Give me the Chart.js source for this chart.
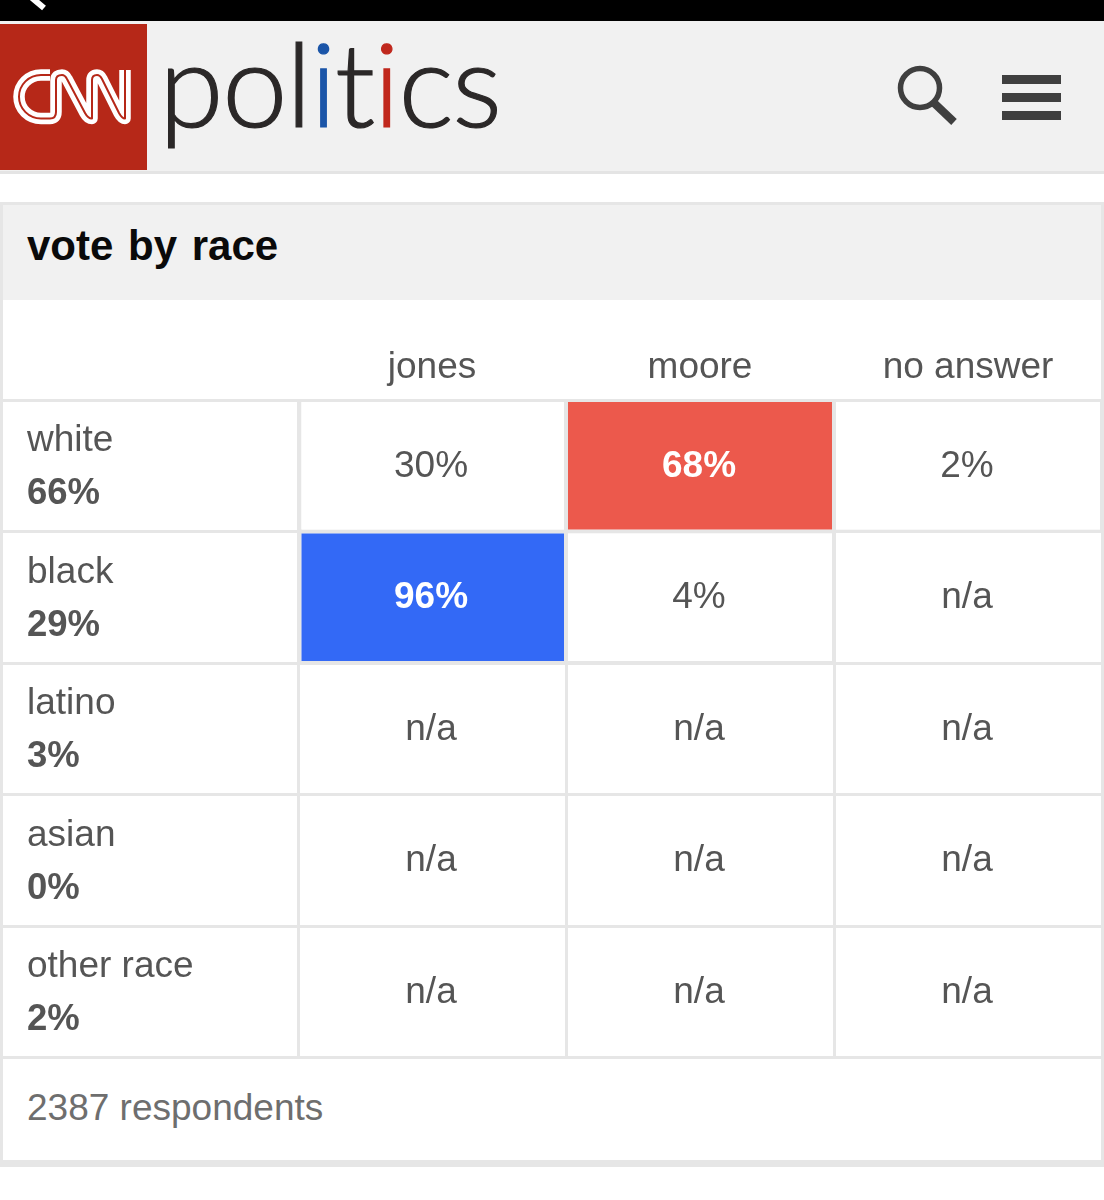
<!DOCTYPE html>
<html><head><meta charset="utf-8">
<script src="https://cdn.jsdelivr.net/npm/chart.js@4"></script>
<style>
html,body{margin:0;padding:0;background:#fff;width:1104px;height:1200px;overflow:hidden;font-family:"Liberation Sans",Arial,sans-serif}
.abs{position:absolute}
#politics{left:159px;top:24px;font:300 117px/1 Lato;letter-spacing:-1.4px;color:#2b2828;white-space:nowrap;-webkit-text-stroke:1.2px currentColor}
#title{left:27px;top:222px;font:bold 42px/48px "Liberation Sans";color:#0a0a0a;word-spacing:3px;white-space:nowrap}
#foot{left:27px;top:1086px;font:37px/44px "Liberation Sans";color:#6e6e6e;white-space:nowrap}
</style></head><body>
<div class="abs" style="left:0;top:0;width:1104px;height:21px;background:#000"></div>
<div class="abs" style="left:0;top:21px;width:1104px;height:151px;background:#f1f1f1"></div>
<div class="abs" style="left:0;top:171px;width:1104px;height:3px;background:#e4e4e4"></div>
<div class="abs" style="left:0;top:24px;width:147px;height:146px;background:#b62818"></div>
<svg class="abs" style="left:0;top:0" width="1104" height="200">
  <path d="M32 -2 L44 8" stroke="#fff" stroke-width="6" fill="none"/>
  <g fill="none" stroke-linejoin="round" stroke-linecap="butt">
    <path d="M50 75 H41 A22 21.75 0 0 0 41 118.5 H50 Q56 118.5 56 112 V80 Q56 75 62 75 Q65 75 67 79 L85 113 Q88 118.5 92 118.5 V80 Q92 75 97 75 Q100 75 102 79 L119 113 Q122 118.5 125 118.5 V70" stroke="#fff" stroke-width="11.5"/>
    <path d="M50 75 H41 A22 21.75 0 0 0 41 118.5 H50 Q56 118.5 56 112 V80 Q56 75 62 75 Q65 75 67 79 L85 113 Q88 118.5 92 118.5 V80 Q92 75 97 75 Q100 75 102 79 L119 113 Q122 118.5 125 118.5 V70" stroke="#b62818" stroke-width="2"/>
  </g>
  <circle cx="920" cy="88" r="19.5" fill="none" stroke="#3f3f3f" stroke-width="5.5"/>
  <path d="M933 102 L954 122" stroke="#3f3f3f" stroke-width="8" fill="none"/>
  <rect x="1002" y="75" width="59" height="9" fill="#3f3f3f"/>
  <rect x="1002" y="93" width="59" height="9" fill="#3f3f3f"/>
  <rect x="1002" y="111" width="59" height="9" fill="#3f3f3f"/>
</svg>
<div id="politics" class="abs">pol<span style="color:#1b55a8">i</span>t<span style="color:#c0281d">i</span>cs</div>
<div class="abs" style="left:0;top:202px;width:1104px;height:3px;background:#e6e6e6"></div>
<div class="abs" style="left:0;top:205px;width:1104px;height:95px;background:#f1f1f1"></div>
<div class="abs" style="left:0;top:202px;width:3px;height:965px;background:#e6e6e6"></div>
<div class="abs" style="left:1101px;top:202px;width:3px;height:965px;background:#e6e6e6"></div>
<div class="abs" style="left:0;top:1160px;width:1104px;height:7px;background:#e6e6e6"></div>
<div id="title" class="abs">vote by race</div>
<div id="foot" class="abs">2387 respondents</div>
<div class="abs" style="left:0;top:302px;width:1104px;height:770px"><canvas id="c" width="1104" height="770"></canvas></div>
<script>
const races = ["white","black","latino","asian","other race"];
const shares = [66,29,3,0,2];
const columns = ["jones","moore","no answer"];
const jones = [30,96,null,null,null];
const moore = [68,4,null,null,null];
const noAnswer = [2,null,null,null,null];

const series = [jones,moore,noAnswer];
const highlight = ["#3369f6","#ec594c",null];
const GRID = "#e6e6e6", TEXT = "#555555";
const datasets = series.map((vals,col)=>({
  label: columns[col],
  data: vals.map(v=> v==null ? null : [col,col+1]),
  grouped:false,
  barPercentage:1, categoryPercentage:1,
  borderWidth:2, borderColor:GRID, borderSkipped:false, inflateAmount:0,
  backgroundColor: ctx=>{
    const row = ctx.dataIndex, v = vals[row];
    const top = Math.max(...series.map(s=>s[row]??-1));
    return (v===top && highlight[col]) ? highlight[col] : "#ffffff";
  }
}));
const labelPlugin = {
  id:"cellText",
  afterDatasetsDraw(chart){
    const {ctx,scales:{x,y}} = chart;
    ctx.save();
    ctx.textBaseline="alphabetic";
    races.forEach((r,row)=>{
      const py = y.getPixelForValue(row);
      ctx.textAlign="left"; ctx.fillStyle=TEXT;
      ctx.font='37px "Liberation Sans"';
      ctx.fillText(r,27,py-14.5);
      ctx.font='bold 36.5px "Liberation Sans"';
      ctx.fillText(shares[row]+"%",27,py+38.5);
      ctx.textAlign="center";
      series.forEach((s,col)=>{
        const v=s[row], px=x.getPixelForValue(col+0.5);
        const top=Math.max(...series.map(q=>q[row]??-1));
        const hot=v===top&&highlight[col];
        ctx.font=(hot?'bold ':'')+'37px "Liberation Sans"';
        ctx.fillStyle=hot?"#ffffff":TEXT;
        ctx.fillText(v==null?"n/a":v+"%",px-1,py+11);
      });
    });
    ctx.restore();
  }
};
new Chart(document.getElementById("c"),{
  type:"bar",
  data:{labels:races,datasets},
  plugins:[labelPlugin],
  options:{
    indexAxis:"y",responsive:false,animation:false,
    layout:{padding:{left:0,top:0,right:2,bottom:14.5}},
    plugins:{legend:{display:false},tooltip:{enabled:false},title:{display:false}},
    scales:{
      x:{type:"linear",position:"top",min:0,max:3,
         ticks:{display:false,stepSize:1},
         grid:{color:GRID,lineWidth:3,drawTicks:false},border:{display:false},
         afterFit(s){s.height=0;}},
      xNames:{type:"category",axis:"x",position:"top",labels:columns,offset:true,
         grid:{display:false},border:{display:false},
         ticks:{color:TEXT,font:{family:"Liberation Sans",size:37},padding:2,maxRotation:0,autoSkip:false},
         afterFit(s){s.height=98;}},
      y:{type:"category",labels:races,offset:true,
         ticks:{display:false},
         grid:{color:GRID,lineWidth:3,offset:true,drawTicks:true,tickLength:298,tickColor:GRID,tickWidth:3},
         border:{display:false},
         afterFit(s){s.width=298;}}
    }
  }
});
</script>
</body></html>
